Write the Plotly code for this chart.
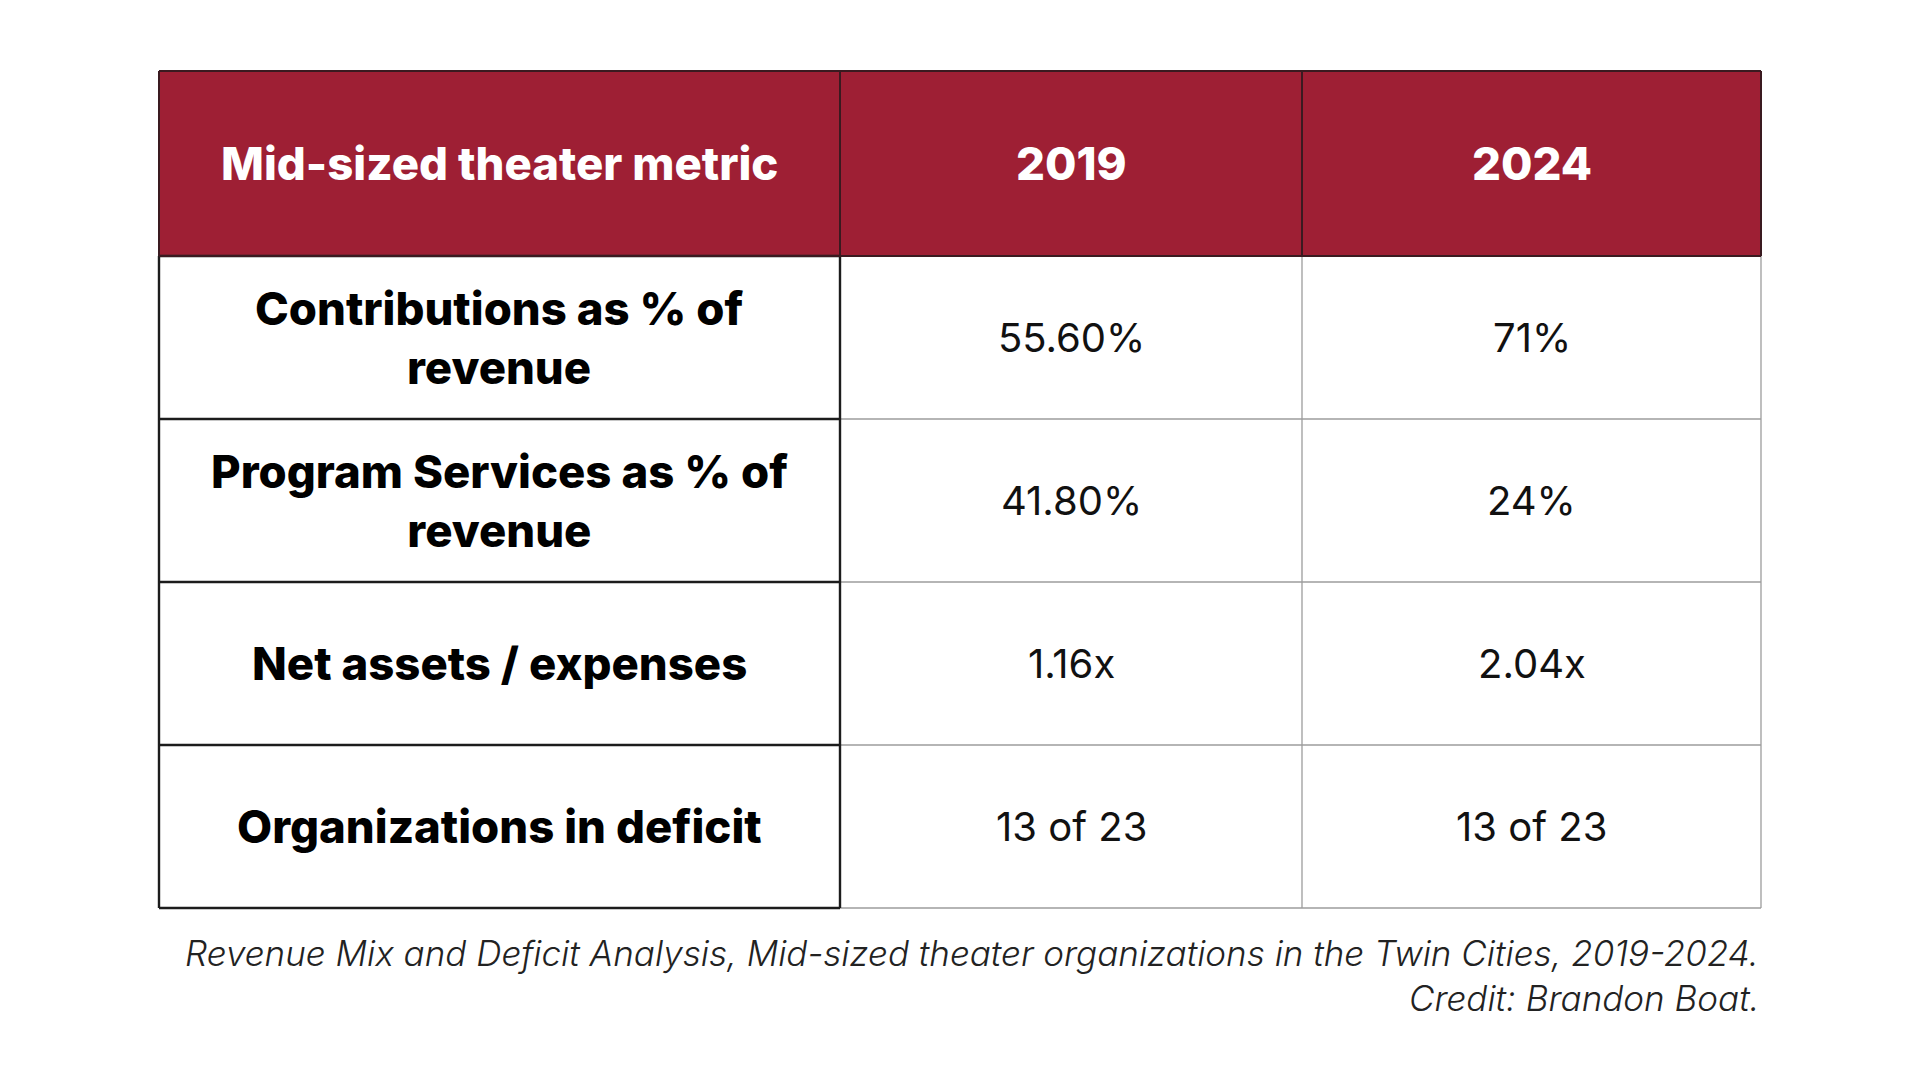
import plotly.graph_objects as go

# table content
header = ["Mid-sized theater metric", "2019", "2024"]
metrics = [
    "Contributions as % of<br>revenue",
    "Program Services as % of<br>revenue",
    "Net assets / expenses",
    "Organizations in deficit",
]
values_2019 = ["55.60%", "41.80%", "1.16x", "13 of 23"]
values_2024 = ["71%", "24%", "2.04x", "13 of 23"]
caption = [
    "Revenue Mix and Deficit Analysis, Mid-sized theater organizations in the Twin Cities, 2019-2024.",
    "Credit: Brandon Boat.",
]

W, H = 1920, 1080
FONT = "Inter"
RED = "#9e1f34"

# geometry of the grid (pixels, axes map 1:1 to the page)
left, top = 159, 71
col_widths = [681, 462, 459]
header_h, row_h = 185, 163

x_edges = [left + sum(col_widths[:i]) for i in range(len(col_widths) + 1)]
y_edges = [top] + [top + header_h + row_h * i for i in range(len(metrics) + 1)]
x_mid = [(a + b) / 2 for a, b in zip(x_edges[:-1], x_edges[1:])]
y_mid = [(a + b) / 2 for a, b in zip(y_edges[:-1], y_edges[1:])]

fig = go.Figure()

# cell fills: header row red, body white
z = [[1] * len(header)] + [[0] * len(header) for _ in metrics]
fig.add_trace(go.Heatmap(
    x=x_edges,
    y=y_edges,
    z=z,
    colorscale=[[0, "white"], [1, RED]],
    showscale=False,
    hoverinfo="skip",
))


def hline(y, x0, x1, color, width):
    fig.add_shape(type="line", xref="x", yref="y", x0=x0, x1=x1, y0=y, y1=y,
                  line=dict(color=color, width=width))


def vline(x, y0, y1, color, width):
    fig.add_shape(type="line", xref="x", yref="y", x0=x, x1=x, y0=y0, y1=y1,
                  line=dict(color=color, width=width))


# light grey grid for the value columns
for y in y_edges[2:]:
    hline(y, x_edges[1], x_edges[-1], "#9c9c9c", 1.3)
for x in x_edges[2:]:
    vline(x, y_edges[1], y_edges[-1], "#9c9c9c", 1.3)

# black boxes for the metric column
for y in y_edges[1:]:
    hline(y, x_edges[0], x_edges[1], "#1c1c1c", 2.4)
for x in x_edges[:2]:
    vline(x, y_edges[1], y_edges[-1], "#1c1c1c", 2.4)

# header outline
hline(y_edges[0], x_edges[0], x_edges[-1], "#3a1a20", 2)
hline(y_edges[1], x_edges[0], x_edges[-1], "#3a1a20", 2)
for x in x_edges:
    vline(x, y_edges[0], y_edges[1], "#3a1a20", 2)

# header text
for j, label in enumerate(header):
    fig.add_annotation(x=x_mid[j], y=y_mid[0], xref="x", yref="y", text=label,
                       showarrow=False,
                       font=dict(family=FONT, size=45.5, color="white", weight=800))

# body text
for i, metric in enumerate(metrics):
    fig.add_annotation(x=x_mid[0], y=y_mid[i + 1], xref="x", yref="y", text=metric,
                       showarrow=False,
                       font=dict(family=FONT, size=45.5, color="black", weight=800))
    for j, val in enumerate([values_2019[i], values_2024[i]]):
        fig.add_annotation(x=x_mid[j + 1], y=y_mid[i + 1], xref="x", yref="y", text=val,
                           showarrow=False,
                           font=dict(family=FONT, size=40, color="#111111", weight=400))

# caption, right aligned under the table
for k, line in enumerate(caption):
    fig.add_annotation(x=x_edges[-1] / W, y=1 - (953 + 45 * k) / H, xref="paper", yref="paper",
                       text=line, showarrow=False, xanchor="right", yanchor="middle",
                       font=dict(family=FONT, size=35, color="#222222", style="italic", weight=300))

fig.update_layout(
    width=W,
    height=H,
    margin=dict(l=0, r=0, t=0, b=0),
    paper_bgcolor="white",
    plot_bgcolor="white",
    xaxis=dict(range=[0, W], visible=False, fixedrange=True),
    yaxis=dict(range=[H, 0], visible=False, fixedrange=True),
    showlegend=False,
)

fig.write_html("out.html", config={"displayModeBar": False},
               post_script="document.body.style.margin='0';")
